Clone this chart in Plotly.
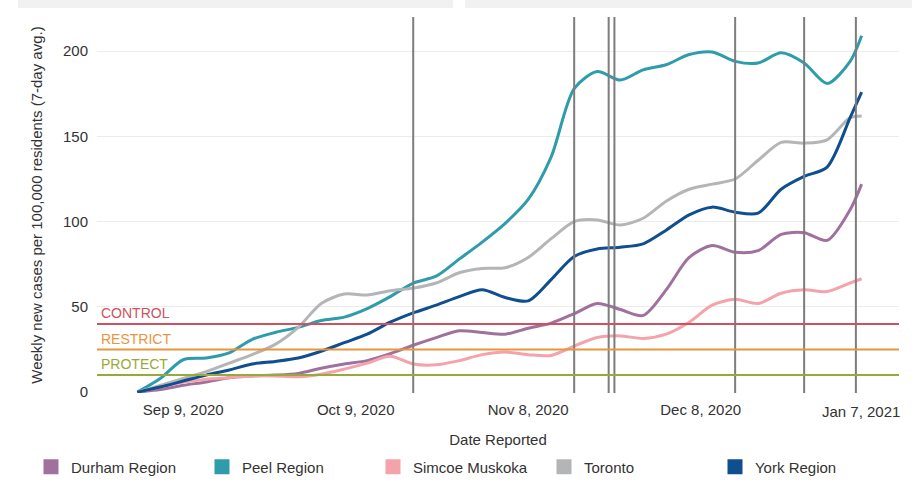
import plotly.graph_objects as go

dates = ["2020-09-01", "2020-09-05", "2020-09-09", "2020-09-13", "2020-09-17", "2020-09-21",
         "2020-09-25", "2020-09-29", "2020-10-03", "2020-10-07", "2020-10-11", "2020-10-15",
         "2020-10-19", "2020-10-23", "2020-10-27", "2020-10-31", "2020-11-04", "2020-11-08",
         "2020-11-12", "2020-11-16", "2020-11-20", "2020-11-24", "2020-11-28", "2020-12-02",
         "2020-12-06", "2020-12-10", "2020-12-14", "2020-12-18", "2020-12-22", "2020-12-26",
         "2020-12-30", "2021-01-03", "2021-01-05"]

durham = [0, 1.5, 4, 6, 8.5, 9.5, 10, 11, 14, 16.5, 18.5, 22.5, 27.5, 32, 36, 35, 34, 37.5,
          40.5, 46, 52, 48.5, 45, 60, 79, 86, 82, 83, 92.5, 93.5, 89, 107, 122]
peel = [0, 8, 19, 20, 23, 31, 35, 38, 42, 44, 49, 56, 64, 68, 78, 88, 99, 113,
        138, 178, 188, 183, 189, 192, 198, 199.5, 194, 193, 199, 193, 181, 194, 209]
simcoe = [0, 3, 6, 7.5, 8.5, 9.5, 9.5, 9, 10.5, 13.5, 17, 21, 16.5, 16, 18.5, 22, 23.5, 22,
          21.5, 27, 32, 33, 31.5, 34, 41, 51, 54.5, 52, 58, 60, 59, 64, 66.5]
toronto = [0, 4, 8, 12, 17, 22, 28, 38, 52, 57.5, 57, 59.5, 61, 64, 70, 72.5, 73, 79,
           90, 100, 101, 98, 102, 112, 119, 122, 125, 136, 146.5, 146, 148, 161, 162]
york = [0, 3, 6.5, 10, 13, 16.5, 18, 20, 24, 29, 34, 41, 46.5, 51, 56, 60, 55.5, 53.5,
        66, 79.5, 84, 85, 87, 95, 104, 108.5, 105.5, 105, 119, 126.5, 132, 161, 176]

series_names = ["Durham Region", "Peel Region", "Simcoe Muskoka", "Toronto", "York Region"]
series_values = [durham, peel, simcoe, toronto, york]
series_colors = ["#a0719c", "#2f9cab", "#f4a3aa", "#b3b5b6", "#0f4e8f"]

threshold_names = ["CONTROL", "RESTRICT", "PROTECT"]
threshold_values = [40, 25, 10]
threshold_colors = ["#cf5160", "#e8963e", "#98aa36"]

event_dates = ["2020-10-19", "2020-11-16", "2020-11-22", "2020-11-23",
               "2020-12-14", "2020-12-26", "2021-01-04"]

tick_dates = ["2020-09-09", "2020-10-09", "2020-11-08", "2020-12-08", "2021-01-07"]
tick_labels = ["Sep 9, 2020", "Oct 9, 2020", "Nov 8, 2020", "Dec 8, 2020", "Jan 7, 2021"]

FONT = "Liberation Sans"
TXT = "#333333"
fig = go.Figure()

for name, vals, col in zip(series_names, series_values, series_colors):
    fig.add_trace(go.Scatter(x=dates, y=vals, mode="lines", name=name, legendgroup=name,
                             showlegend=False,
                             line=dict(color=col, width=3, shape="spline", smoothing=0.8)))
for name, col in zip(series_names, series_colors):
    fig.add_trace(go.Scatter(x=[None], y=[None], mode="markers", name=name, legendgroup=name,
                             marker=dict(symbol="square", size=15, color=col)))

shapes = []
for d in event_dates:
    shapes.append(dict(type="line", xref="x", yref="paper", x0=d, x1=d, y0=0, y1=1,
                       line=dict(color="#7d7d7d", width=2), layer="above"))
annotations = []
for n, v, c in zip(threshold_names, threshold_values, threshold_colors):
    shapes.append(dict(type="line", xref="paper", yref="y", x0=0, x1=1, y0=v, y1=v,
                       line=dict(color=c, width=2), layer="above"))
    annotations.append(dict(x=0, xref="paper", y=v, yref="y", text=n, showarrow=False,
                            xanchor="left", yanchor="bottom", xshift=2, yshift=1,
                            font=dict(family=FONT, size=14, color=c)))
# last date label, pulled inward like the reference so it stays on the page
annotations.append(dict(x=tick_dates[-1], xref="x", y=0, yref="paper", text=tick_labels[-1],
                        showarrow=False, xanchor="center", yanchor="top", xshift=-12,
                        yshift=-8, font=dict(family=FONT, size=15, color=TXT)))
# top filter bars (page chrome)
shapes.append(dict(type="rect", xref="paper", yref="paper", x0=-0.0985, x1=0.444,
                   y0=1.024, y1=1.046, fillcolor="#f1f1f1", line=dict(width=0)))
shapes.append(dict(type="rect", xref="paper", yref="paper", x0=0.459, x1=1.016,
                   y0=1.024, y1=1.046, fillcolor="#f1f1f1", line=dict(width=0)))

fig.update_layout(
    width=916, height=500,
    margin=dict(l=97, r=17, t=17, b=107, autoexpand=False),
    plot_bgcolor="white", paper_bgcolor="white",
    font=dict(family=FONT, size=14, color=TXT),
    hovermode=False,
    shapes=shapes, annotations=annotations,
    xaxis=dict(range=["2020-08-25", "2021-01-11 12:00"], tickvals=tick_dates[:-1],
               ticktext=tick_labels[:-1], showgrid=False, zeroline=False, showline=False,
               automargin=False, ticklabelstandoff=6,
               tickfont=dict(size=15, color=TXT),
               title=dict(text="Date Reported", standoff=17,
                          font=dict(size=15, color=TXT))),
    yaxis=dict(range=[-0.5, 220], tickvals=[0, 50, 100, 150, 200], showgrid=True,
               gridcolor="#ececec", zeroline=False, showline=False,
               ticklabelstandoff=8, automargin=False,
               tickfont=dict(size=15, color=TXT),
               title=dict(text="Weekly new cases per 100,000 residents (7-day avg.)",
                          standoff=16, font=dict(size=15, color=TXT))),
    legend=dict(orientation="h", xref="paper", yref="paper", x=-0.0823, y=-0.197,
                xanchor="left", yanchor="middle", entrywidth=126, entrywidthmode="pixels",
                font=dict(size=15, color=TXT), itemclick=False, itemdoubleclick=False),
    showlegend=True,
)

fig.write_html("out.html", config={"displayModeBar": False},
               post_script="document.body.style.margin='0';")
